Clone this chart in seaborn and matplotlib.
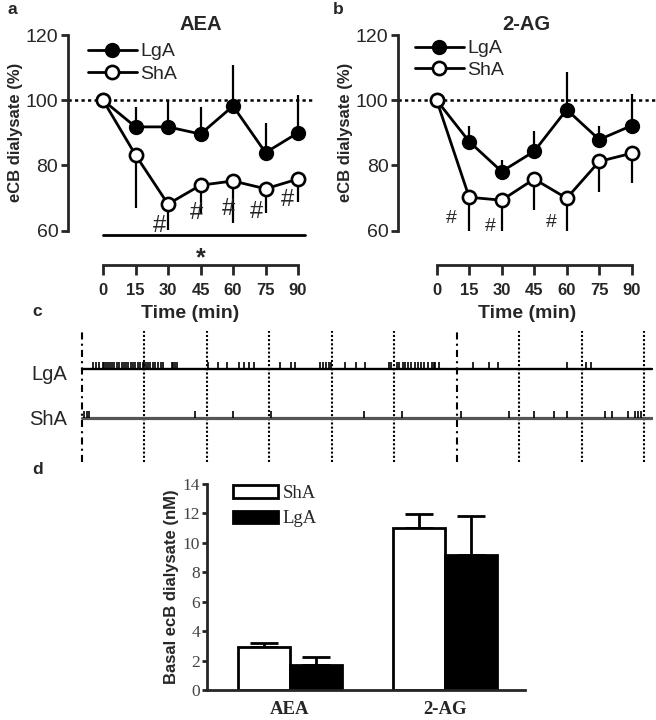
import numpy as np
import pandas as pd
import seaborn as sns
import matplotlib.pyplot as plt

# ---- panels a/b: eCB dialysate, % of baseline ----
time = [0, 15, 30, 45, 60, 75, 90]
aea_lga = [100, 91.8, 91.8, 89.6, 98.2, 83.9, 90.0]
aea_lga_sem = [0, 6.0, 8.2, 8.2, 12.5, 9.0, 11.7]
aea_sha = [100, 83.2, 68.1, 73.9, 75.2, 72.8, 75.8]
aea_sha_sem = [0, 16.4, 7.9, 8.6, 13.0, 7.5, 6.9]
ag_lga = [100, 87.3, 78.1, 84.3, 97.1, 87.9, 92.2]
ag_lga_sem = [0, 4.9, 3.4, 6.3, 11.5, 4.3, 9.8]
ag_sha = [100, 70.2, 69.3, 75.8, 69.9, 81.2, 83.7]
ag_sha_sem = [0, 11.1, 10.2, 9.5, 14.4, 9.3, 9.2]

# '#' significance marks (time, % value)
aea_hash_t = [26.3, 43.2, 57.8, 70.9, 85.1]
aea_hash_y = [61.4, 65.3, 66.5, 65.8, 69.4]
ag_hash_t = [6.9, 24.6, 53.1]
ag_hash_y = [63.8, 61.2, 62.6]

# ---- panel c: lever presses (min) ----
lga_presses = [2.6, 3.4, 4.2, 5.0, 5.4, 5.8, 6.2, 6.8, 7.2, 7.8, 8.4, 9.0, 9.6, 10.2,
               10.6, 11.2, 11.8, 12.4, 12.8, 13.4, 14.0, 14.6, 15.0, 15.4, 16.0, 16.4,
               17.2, 17.6, 18.4, 19.0, 19.6, 21.6, 22.0, 22.4, 22.8, 30.4, 32.6, 34.9,
               37.7, 39.0, 40.1, 41.4, 47.7, 50.3, 51.3, 57.2, 58.0, 58.6, 59.3, 59.8,
               63.2, 65.9, 68.1, 73.8, 74.2, 75.6, 76.2, 77.0, 77.6, 78.3, 79.1, 79.9,
               80.6, 81.4, 82.2, 83.0, 84.1, 84.5, 84.9, 85.7, 93.9, 97.7, 99.9, 116.5,
               120.9, 122.3]
sha_presses = [0.6, 1.2, 1.8, 27.2, 36.3, 45.4, 67.7, 76.8, 91.1, 102.6, 108.5, 113.4,
               116.4, 125.6, 127.2, 131.2, 132.8, 133.6, 134.2]
session_marks = [0, 15, 30, 45, 60, 75, 90, 105, 120, 135]
session_starts = [0, 90]

# ---- panel d: basal dialysate (nM) ----
analytes = ['AEA', '2-AG']
sha_basal = [2.95, 10.99]
sha_basal_sem = [0.27, 0.97]
lga_basal = [1.70, 9.18]
lga_basal_sem = [0.57, 2.65]

sns.set_style('ticks')
plt.rcParams['font.family'] = ['Liberation Sans', 'DejaVu Sans']
plt.rcParams['axes.linewidth'] = 2.0

fig = plt.figure(figsize=(6.56, 7.2), dpi=100)
W, H = 656, 720


def px_axes(left, top, right, bottom):
    return fig.add_axes([left / W, 1 - bottom / H, (right - left) / W, (bottom - top) / H])


def time_panel(ax, lga, lga_sem, sha, sha_sem, title, title_x, xlim, leg_anchor, leg_sp):
    lga = np.array(lga); sha = np.array(sha)
    ax.axhline(100, color='black', lw=1.8, ls=(0, (1.3, 1.3)), zorder=0)
    ax.vlines(time, lga, lga + np.array(lga_sem), color='black', lw=1.6, zorder=1)
    ax.vlines(time, sha - np.array(sha_sem), sha, color='black', lw=1.6, zorder=1)
    sns.lineplot(x=time, y=lga, ax=ax, color='black', lw=2.0, marker='o', markersize=9.5,
                 markerfacecolor='black', markeredgecolor='black', markeredgewidth=1.5,
                 label='LgA')
    sns.lineplot(x=time, y=sha, ax=ax, color='black', lw=2.0, marker='o', markersize=9.5,
                 markerfacecolor='white', markeredgecolor='black', markeredgewidth=1.9,
                 label='ShA')
    ax.set_xlim(*xlim)
    ax.set_ylim(60, 120)
    ax.set_yticks([60, 80, 100, 120])
    ax.set_xticks(time)
    ax.spines['top'].set_visible(False)
    ax.spines['right'].set_visible(False)
    ax.spines['left'].set_bounds(60, 120)
    ax.spines['bottom'].set_bounds(0, 90)
    ax.spines['bottom'].set_position(('outward', 24.8))
    ax.tick_params(axis='y', length=5, width=2.0, pad=2, labelsize=14)
    ax.tick_params(axis='x', length=7, width=2.0, pad=6, labelsize=12)
    for t in ax.get_xticklabels():
        t.set_fontweight('bold')
    ax.set_xlabel('Time (min)', fontsize=14, fontweight='bold', labelpad=5)
    ax.set_ylabel('eCB dialysate (%)', fontsize=12, fontweight='bold', labelpad=2)
    ax.text(title_x, 120.3, title, fontsize=14.5, fontweight='bold', ha='center',
            va='bottom')
    h, l = ax.get_legend_handles_labels()
    ax.legend(h, l, loc='upper left', bbox_to_anchor=leg_anchor, frameon=False,
              fontsize=14, handlelength=2.5, handletextpad=0.2, labelspacing=leg_sp,
              borderpad=0, borderaxespad=0)


# panel a
ax_a = px_axes(68, 35, 313, 230.5)
time_panel(ax_a, aea_lga, aea_lga_sem, aea_sha, aea_sha_sem, 'AEA', 45,
           (-16.15, 96.9), (0.082, 0.96), 0.24)
for t, y in zip(aea_hash_t, aea_hash_y):
    ax_a.text(t, y, '#', fontsize=17, ha='center', va='center', clip_on=False)
ax_a.plot([0, 93], [58.6, 58.6], color='black', lw=2.0, clip_on=False)
ax_a.text(45, 51.6, '*', fontsize=18, fontweight='bold', ha='center', va='center',
          clip_on=False)

# panel b
ax_b = px_axes(398.3, 35, 656, 230.5)
time_panel(ax_b, ag_lga, ag_lga_sem, ag_sha, ag_sha_sem, '2-AG', 41.5,
           (-17.7, 101.2), (0.065, 0.975), 0.19)
for t, y in zip(ag_hash_t, ag_hash_y):
    ax_b.text(t, y, '#', fontsize=14, ha='center', va='center', clip_on=False)

# panel c: raster
ax_c = px_axes(76.7, 331, 652.6, 462)
ax_c.set_xlim(-1.2, 137)
ax_c.set_ylim(0, 1)
ax_c.axis('off')
lga_y, sha_y, tick_h = 0.708, 0.334, 0.055
for t in session_marks:
    if t in session_starts:
        ax_c.axvline(t, color='black', lw=1.5, ls=(0, (3.4, 2, 1, 2)))
    else:
        ax_c.axvline(t, color='black', lw=1.5, ls=(0, (1, 1)))
ax_c.plot([0, 136.8], [lga_y, lga_y], color='black', lw=1.7)
ax_c.plot([0, 136.8], [sha_y, sha_y], color='#555555', lw=2.3)
ax_c.vlines(lga_presses, lga_y, lga_y + tick_h, color='black', lw=1.2)
ax_c.vlines(sha_presses, sha_y, sha_y + tick_h, color='black', lw=1.2)
fig.text(67 / W, 1 - 374 / H, 'LgA', fontsize=14.5, ha='right', va='center')
fig.text(67 / W, 1 - 419 / H, 'ShA', fontsize=14.5, ha='right', va='center')

# panel d: basal levels
basal = pd.DataFrame({
    'analyte': analytes * 2,
    'group': ['ShA'] * len(analytes) + ['LgA'] * len(analytes),
    'nM': sha_basal + lga_basal,
})
ax_d = px_axes(206.7, 484, 525, 690)
sns.barplot(data=basal, x='analyte', y='nM', hue='group', hue_order=['ShA', 'LgA'],
            palette={'ShA': 'white', 'LgA': 'black'}, edgecolor='black', linewidth=2.0,
            width=0.667, gap=0, saturation=1, errorbar=None, ax=ax_d)
for cont, vals, errs in zip(ax_d.containers, [sha_basal, lga_basal],
                            [sha_basal_sem, lga_basal_sem]):
    xs = [b.get_x() + b.get_width() / 2 for b in cont]
    ax_d.errorbar(xs, vals, yerr=[np.zeros(len(vals)), errs], fmt='none', ecolor='black',
                  elinewidth=2.0, capsize=10, capthick=2.0, zorder=0.5)
ax_d.set_xlim(-0.537, 1.516)
ax_d.set_ylim(0, 14)
ax_d.set_yticks(range(0, 15, 2))
ax_d.spines['top'].set_visible(False)
ax_d.spines['right'].set_visible(False)
ax_d.tick_params(axis='y', length=3.6, width=2.0, pad=1, labelsize=12.5,
                 labelcolor='#444444')
ax_d.tick_params(axis='x', length=0, pad=8)
for t in ax_d.get_yticklabels():
    t.set_fontfamily('Liberation Serif')
for t in ax_d.get_xticklabels():
    t.set_fontfamily('Liberation Serif')
    t.set_fontweight('bold')
    t.set_fontsize(13.5)
ax_d.set_xlabel('')
ax_d.set_ylabel('Basal ecB dialysate (nM)', fontsize=12, fontweight='bold', labelpad=3)
old = ax_d.get_legend()
handles = old.legend_handles
labels = [t.get_text() for t in old.texts]
ax_d.legend(handles, labels, loc='upper left', bbox_to_anchor=(0.083, 0.995),
            frameon=False, prop={'family': 'Liberation Serif', 'size': 13.5},
            handlelength=2.4, handleheight=0.62, handletextpad=0.25, labelspacing=0.44,
            borderpad=0, borderaxespad=0)

# panel letters
for x, y, s in [(12, 10, 'a'), (338, 10, 'b'), (37, 312, 'c'), (38, 470, 'd')]:
    fig.text(x / W, 1 - y / H, s, fontsize=12.5, fontweight='bold', ha='center',
             va='center')

fig.savefig('out.png', dpi=100, facecolor='white')
